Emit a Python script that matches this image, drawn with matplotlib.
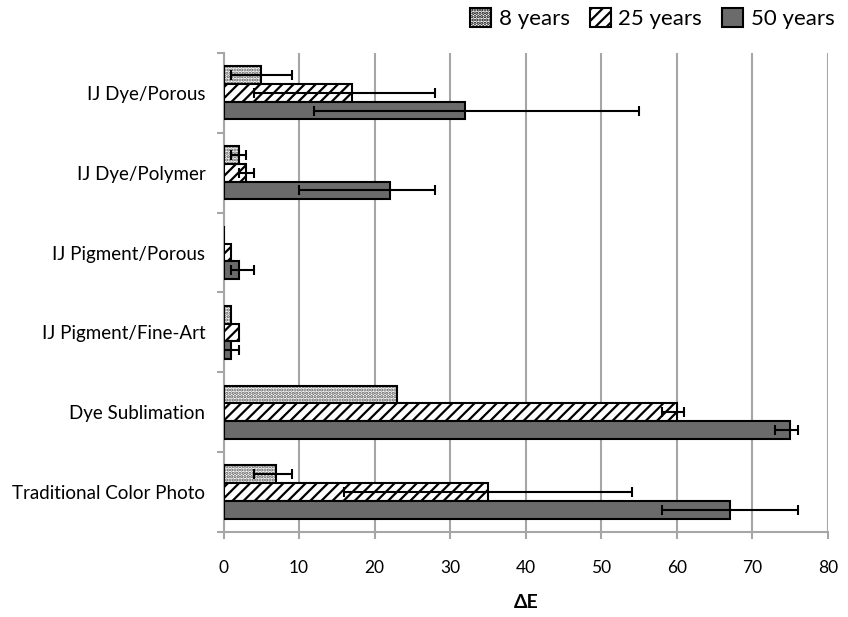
import matplotlib
matplotlib.use("Agg")
import matplotlib.pyplot as plt
import numpy as np

plt.rcParams["font.family"] = ["Lato", "DejaVu Sans"]
plt.rcParams["hatch.linewidth"] = 1.6

# Data (top to bottom as drawn)
categories = ["IJ Dye/Porous", "IJ Dye/Polymer", "IJ Pigment/Porous",
              "IJ Pigment/Fine-Art", "Dye Sublimation", "Traditional Color Photo"]
series_names = ["8 years", "25 years", "50 years"]

years8 = [5, 2, 0.1, 1, 23, 7]
years8_lo = [4, 1, None, None, None, 3]
years8_hi = [4, 1, None, None, None, 2]

years25 = [17, 3, 1, 2, 60, 35]
years25_lo = [13, 1, None, None, 2, 19]
years25_hi = [11, 1, None, None, 1, 19]

years50 = [32, 22, 2, 1, 75, 67]
years50_lo = [20, 12, 1, 1, 2, 9]
years50_hi = [23, 6, 2, 1, 1, 9]

x_ticks = [0, 10, 20, 30, 40, 50, 60, 70, 80]

GRID = "#a6a6a6"
# (face, hatch, hatch colour)
styles = [
    ("white", ".....", "#5a5a5a"),
    ("white", "///", "black"),
    ("#6b6b6b", None, "black"),
]

fig = plt.figure(figsize=(8.48, 6.17), dpi=100)
ax = fig.add_axes([0.2636, 0.1378, 0.9764 - 0.2636, 0.9141 - 0.1378])

bar_h = 0.222
offsets = [-bar_h, 0.0, bar_h]
series = [(years8, years8_lo, years8_hi),
          (years25, years25_lo, years25_hi),
          (years50, years50_lo, years50_hi)]

y = np.arange(len(categories))
handles = []
for k, (vals, lo, hi) in enumerate(series):
    face, hatch, hcol = styles[k]
    ypos = y + offsets[k]
    # fill + hatch first, then a black outline on top
    ax.barh(ypos, vals, height=bar_h, facecolor=face, hatch=hatch,
            edgecolor=hcol, linewidth=0, zorder=3)
    ax.barh(ypos, vals, height=bar_h, facecolor="none",
            edgecolor="black", linewidth=1.5, zorder=3)
    handles.append(plt.Rectangle((0, 0), 1, 1, facecolor=face, hatch=hatch,
                                 edgecolor="black", linewidth=1.5))
    idx = [i for i in range(len(vals)) if lo[i] is not None]
    if idx:
        ax.errorbar([vals[i] for i in idx], [ypos[i] for i in idx],
                    xerr=[[lo[i] for i in idx], [hi[i] for i in idx]],
                    fmt="none", ecolor="black", elinewidth=1.5,
                    capsize=3.6, capthick=1.5, zorder=4)

ax.set_xlim(0, 80)
ax.set_ylim(len(categories) - 0.5, -0.5)
ax.set_xticks(x_ticks)
ax.grid(axis="x", color=GRID, linewidth=1.5, zorder=0)

# category labels on minor ticks, boundary ticks on major
ax.set_yticks(np.arange(-0.5, len(categories), 1.0))
ax.set_yticklabels([])
ax.set_yticks(y, minor=True)
ax.set_yticklabels(categories, minor=True, fontsize=13.5)
ax.tick_params(axis="y", which="minor", length=0, pad=13)
ax.tick_params(axis="y", which="major", length=5, width=1.5, color=GRID)
ax.tick_params(axis="x", length=5, width=1.5, color=GRID, labelsize=12.5, pad=15)

for s in ["top", "right"]:
    ax.spines[s].set_visible(False)
for s in ["left", "bottom"]:
    ax.spines[s].set_color(GRID)
    ax.spines[s].set_linewidth(1.5)

ax.set_xlabel("ΔE", fontsize=14, fontweight="bold", labelpad=13)

fig.legend(handles, series_names, loc="upper right",
           bbox_to_anchor=(1.008, 1.019), ncol=3, frameon=False, fontsize=16,
           handlelength=0.95, handleheight=0.95, columnspacing=0.9,
           handletextpad=0.35)

fig.savefig("out.png", dpi=100)
